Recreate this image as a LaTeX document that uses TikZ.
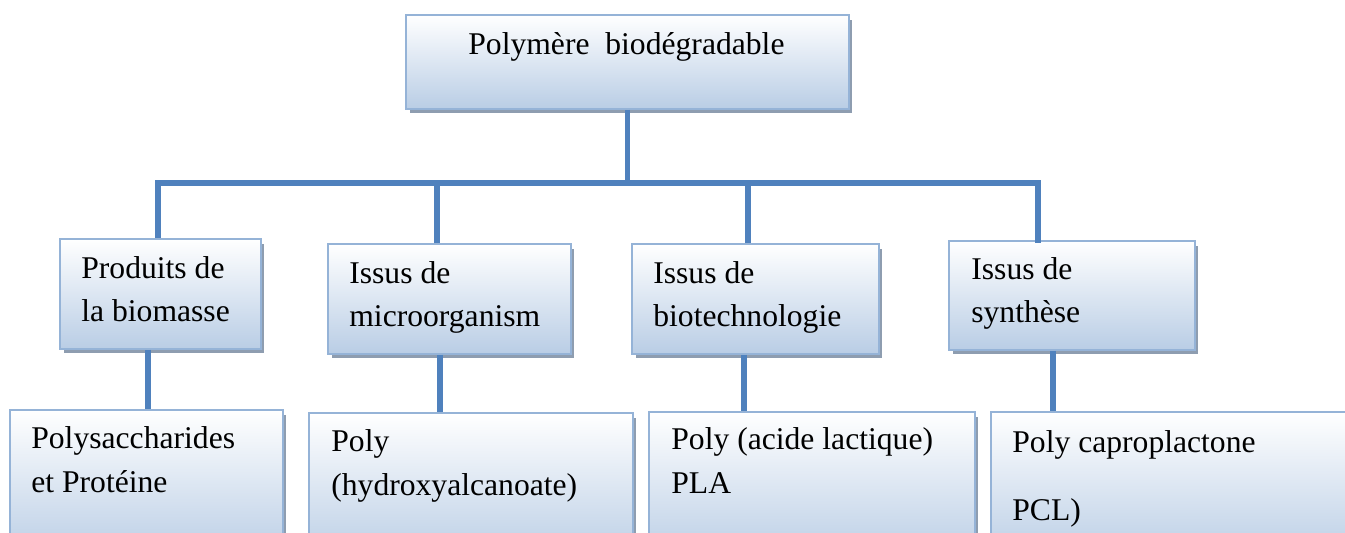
\documentclass[tikz,border=0pt]{standalone}
\usepackage{fontspec}
\setmainfont{Liberation Serif}
\usepackage{xcolor}
\usepackage{tikz}
\usetikzlibrary{shadows}
\usetikzlibrary{positioning}

\definecolor{boxline}{HTML}{95B3D7}
\definecolor{boxfill}{HTML}{B9CDE5}
\definecolor{boxshadow}{HTML}{8E9DB0}
\definecolor{branch}{HTML}{4F81BD}

\tikzset{
    box/.style = {draw = boxline, line width = 1.1pt, top color = white, bottom color = boxfill,
                  drop shadow = {shadow xshift = 0.07cm, shadow yshift = -0.09cm, fill = boxshadow, opacity = 1}},
    txt/.style = {anchor = base west, inner sep = 0pt, align = left,
                  font = \fontsize{18}{24.5}\selectfont},
    branchline/.style = {draw = branch, line width = 3pt}
}

\begin{document}
\begin{tikzpicture}[x = 0.02cm, y = -0.02cm]
    \useasboundingbox (0, 0) rectangle (1345, 533);
    \clip (0, 0) rectangle (1345, 533);

    % boxes
    \node[box, minimum width = 8.86cm, minimum height = 1.88cm] (poly) at (627.5, 62) {};
    \node[box, minimum width = 4.02cm, minimum height = 2.2cm] (biomasse) at (160.5, 294) {};
    \node[box, minimum width = 4.86cm, minimum height = 2.2cm] (micro) at (449.5, 299) {};
    \node[box, minimum width = 4.94cm, minimum height = 2.2cm] (biotech) at (755.5, 299) {};
    \node[box, minimum width = 4.92cm, minimum height = 2.18cm] (synth) at (1072, 295.5) {};
    \node[box, minimum width = 5.46cm, minimum height = 3cm] (polysac) at (146.5, 485) {};
    \node[box, minimum width = 6.48cm, minimum height = 3cm] (pha) at (471, 488) {};
    \node[box, minimum width = 6.52cm, minimum height = 3cm] (pla) at (812, 487) {};
    \node[box, minimum width = 7.4cm, minimum height = 3cm] (pcl) at (1176, 487) {};

    % texts (base = last line)
    \node[txt] (polytxt) at (468, 55) {Polymère\ \ biodégradable};
    \node[txt] (biomassetxt) at (81, 322) {Produits de\\la biomasse};
    \node[txt] (microtxt) at (349, 327) {Issus de\\microorganism};
    \node[txt] (biotechtxt) at (653, 327) {Issus de\\biotechnologie};
    \node[txt] (synthtxt) at (971, 323) {Issus de\\synthèse};
    \node[txt] (polysactxt) at (31, 492) {Polysaccharides\\et Protéine};
    \node[txt] (phatxt) at (331, 495) {Poly\\(hydroxyalcanoate)};
    \node[txt] (platxt) at (671, 493) {Poly (acide lactique)\\PLA};
    \node[txt] (pcltxt) at (1012, 520) {Poly caproplactone\\[14pt]PCL)};

    % tree
    \coordinate (barleft) at (158, 183);
    \coordinate (barright) at (1038, 183);
    \draw[branchline] (poly.south) -- (poly.south |- barleft);
    \draw[branchline] (biomasse.north -| barleft) -- (barleft) -- (barright) -- (biotech.north -| barright);
    \draw[branchline] (micro.north -| 437, 0) -- (437, 183);
    \draw[branchline] (biotech.north -| 748, 0) -- (748, 183);

    \draw[branchline] (biomasse.south -| 148, 0) -- (polysac.north -| 148, 0);
    \draw[branchline] (micro.south -| 440, 0) -- (pha.north -| 440, 0);
    \draw[branchline] (biotech.south -| 744, 0) -- (pla.north -| 744, 0);
    \draw[branchline] (synth.south -| 1053, 0) -- (pcl.north -| 1053, 0);
\end{tikzpicture}
\end{document}
